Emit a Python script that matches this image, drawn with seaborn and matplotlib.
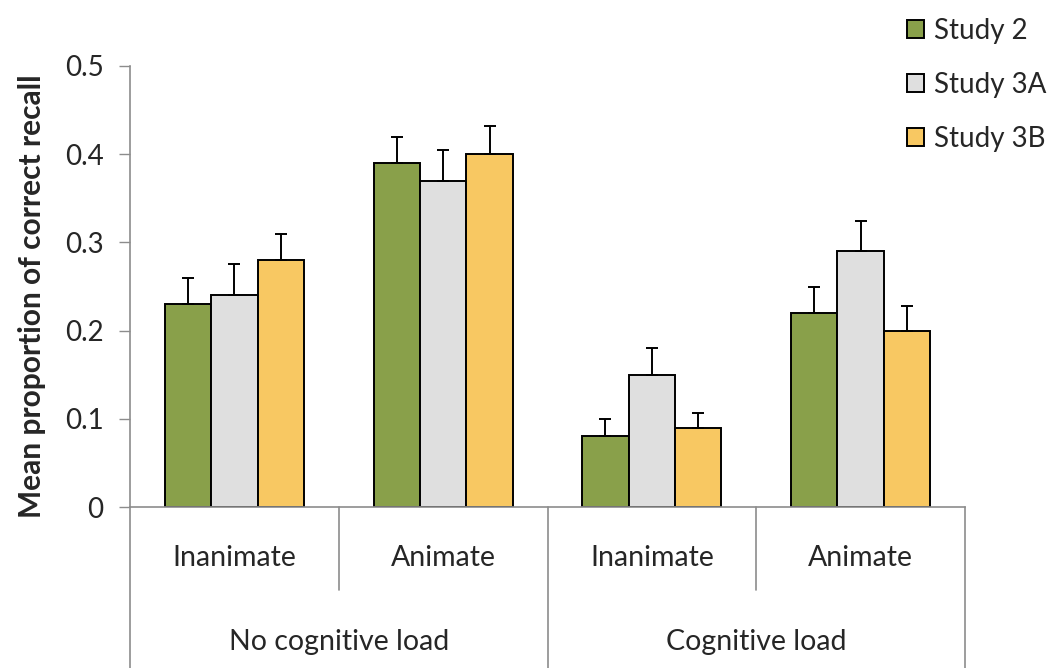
import matplotlib
matplotlib.use('Agg')
import matplotlib.pyplot as plt
import matplotlib.transforms as mtransforms
from matplotlib.patches import Patch
import pandas as pd
import seaborn as sns

# chart data
conditions = ['No load / Inanimate', 'No load / Animate', 'Load / Inanimate', 'Load / Animate']
item_labels = ['Inanimate', 'Animate', 'Inanimate', 'Animate']
load_labels = ['No cognitive load', 'Cognitive load']
studies = ['Study 2', 'Study 3A', 'Study 3B']
study2_mean = [0.23, 0.39, 0.08, 0.22]
study3a_mean = [0.24, 0.37, 0.15, 0.29]
study3b_mean = [0.28, 0.40, 0.09, 0.20]
study2_err = [0.030, 0.030, 0.020, 0.030]
study3a_err = [0.035, 0.035, 0.030, 0.034]
study3b_err = [0.029, 0.032, 0.017, 0.028]
y_ticks = [0, 0.1, 0.2, 0.3, 0.4, 0.5]
y_tick_labels = ['0', '0.1', '0.2', '0.3', '0.4', '0.5']
colors = ['#89A04A', '#DFDFDF', '#F8C862']

rows = []
for study, means, errs in zip(studies,
                              [study2_mean, study3a_mean, study3b_mean],
                              [study2_err, study3a_err, study3b_err]):
    for cond, m, e in zip(conditions, means, errs):
        rows.append({'Condition': cond, 'Study': study, 'Mean': m, 'Err': e})
df = pd.DataFrame(rows)

sns.set_style('white')
plt.rcParams['font.family'] = ['Lato', 'DejaVu Sans']

fig = plt.figure(figsize=(10.55, 6.68), dpi=100)
ax = fig.add_axes([130 / 1055, 161 / 668, 835 / 1055, 441 / 668])

sns.barplot(data=df, x='Condition', y='Mean', hue='Study', order=conditions,
            hue_order=studies, palette=colors, width=0.667, saturation=1,
            edgecolor='black', linewidth=1.4, errorbar=None, legend=False, ax=ax)

# upper error bars only
for container, study in zip(ax.containers, studies):
    sub = df[df['Study'] == study].set_index('Condition').loc[conditions]
    xs = [bar.get_x() + bar.get_width() / 2 for bar in container]
    ax.errorbar(xs, sub['Mean'], yerr=[[0] * len(xs), sub['Err']], fmt='none',
                ecolor='black', elinewidth=1.4, capsize=4.3, capthick=1.4, zorder=1)

ax.set_xlim(-0.5, 3.5)
ax.set_ylim(0, 0.5)
ax.set_yticks(y_ticks)
ax.set_yticklabels(y_tick_labels, fontsize=20)
ax.set_xticks([])
ax.set_xlabel('')
ax.set_ylabel('Mean proportion of correct recall', fontsize=21.5, fontweight='bold')
ax.yaxis.set_label_coords(-0.10, 0.478)
ax.tick_params(axis='y', which='major', left=True, length=8, width=1, color='#8c8c8c', pad=11)

for side in ['top', 'right']:
    ax.spines[side].set_visible(False)
for side in ['left', 'bottom']:
    ax.spines[side].set_color('#8c8c8c')
    ax.spines[side].set_linewidth(1.2)

# two-level category axis
trans = mtransforms.blended_transform_factory(ax.transData, ax.transAxes)
for xb in [-0.5, 1.5, 3.5]:
    ax.plot([xb, xb], [0, -0.37], color='#8c8c8c', lw=1.2, transform=trans, clip_on=False)
for xb in [0.5, 2.5]:
    ax.plot([xb, xb], [0, -0.188], color='#8c8c8c', lw=1.2, transform=trans, clip_on=False)
for i, lab in enumerate(item_labels):
    ax.text(i, -0.116, lab, transform=trans, ha='center', va='center', fontsize=20.5)
for i, lab in enumerate(load_labels):
    ax.text(2 * i + 0.5, -0.306, lab, transform=trans, ha='center', va='center', fontsize=20.5)

handles = [Patch(facecolor=c, edgecolor='black', linewidth=1.4) for c in colors]
fig.legend(handles, studies, loc='upper left', bbox_to_anchor=(907 / 1055, 1 - 18 / 668),
           frameon=False, fontsize=20, handlelength=0.62, handleheight=0.62,
           handletextpad=0.36, labelspacing=1.0, borderpad=0, borderaxespad=0)

fig.savefig('out.png', dpi=100)
plt.close(fig)
